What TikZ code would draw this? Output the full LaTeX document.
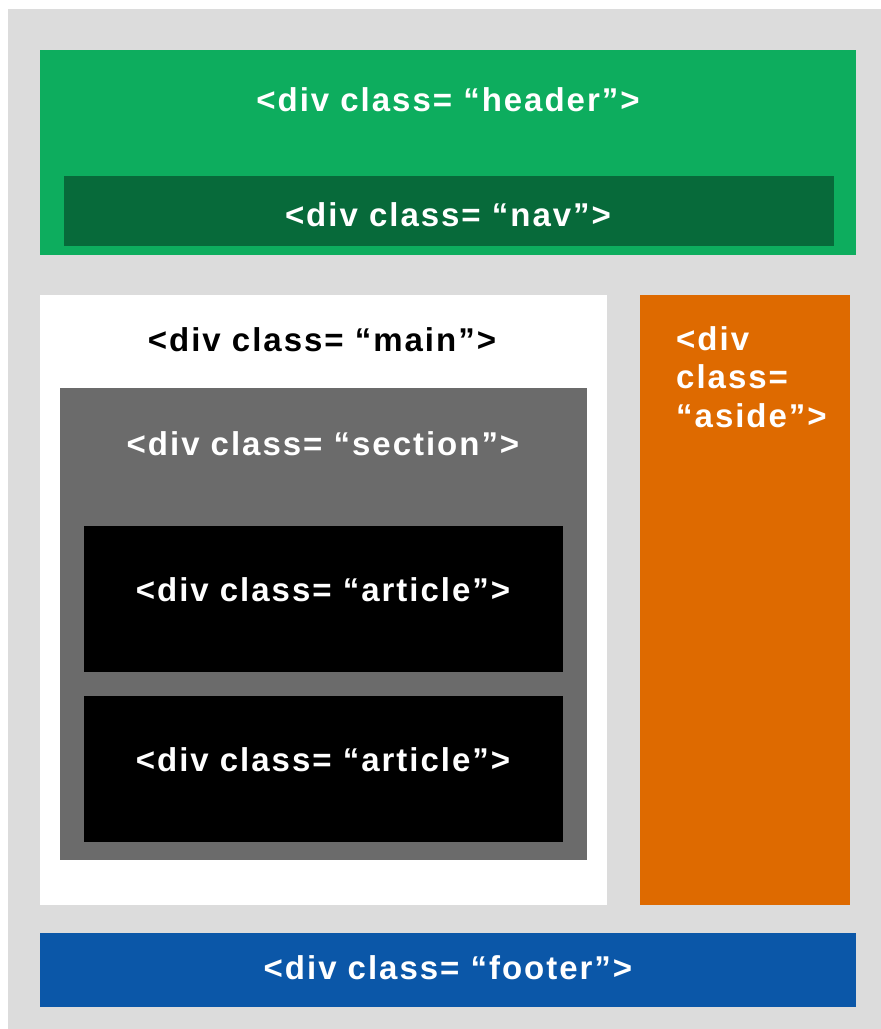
\documentclass[tikz,border=0pt]{standalone}
\usepackage{fontspec}
\setmainfont{Liberation Sans}[LetterSpace=6]
\definecolor{bg}{HTML}{DCDCDC}
\definecolor{hdr}{HTML}{0DAD5E}
\definecolor{navc}{HTML}{076A3A}
\definecolor{asidec}{HTML}{DE6A00}
\definecolor{footc}{HTML}{0B57A8}
\definecolor{secc}{HTML}{6B6B6B}
\begin{document}
\begin{tikzpicture}[x=1pt,y=-1pt,
  box/.style={draw=none, inner sep=0pt, outer sep=0pt, anchor=north west},
  lbl/.style={font=\fontsize{33}{38.5}\selectfont\bfseries, text=white, inner sep=0pt}]
\useasboundingbox (0,0) rectangle (881,1029);
\fill[white] (0,0) rectangle (881,1029);
\node[box, fill=bg, minimum width=873pt, minimum height=1020pt] (page) at (8,9) {};
\node[box, fill=hdr, minimum width=816pt, minimum height=205pt] (header) at (40,50) {};
\node[box, fill=navc, minimum width=770pt, minimum height=70pt] (nav) at (64,176) {};
\node[box, fill=white, minimum width=567pt, minimum height=610pt] (main) at (40,295) {};
\node[box, fill=secc, minimum width=527pt, minimum height=472pt] (section) at (60,388) {};
\node[box, fill=black, minimum width=479pt, minimum height=146pt] (art1) at (84,526) {};
\node[box, fill=black, minimum width=479pt, minimum height=146pt] (art2) at (84,696) {};
\node[box, fill=asidec, minimum width=210pt, minimum height=610pt] (aside) at (640,295) {};
\node[box, fill=footc, minimum width=816pt, minimum height=74pt] (footer) at (40,933) {};
\node[lbl] (tHeader) at (448,100) {<div class= “header”>};
\node[lbl] (tNav) at (448,215) {<div class= “nav”>};
\node[lbl, text=black] (tMain) at (322,340) {<div class= “main”>};
\node[lbl] (tSection) at (323,444) {<div class= “section”>};
\node[lbl] (tArt1) at (323,590) {<div class= “article”>};
\node[lbl] (tArt2) at (323,760) {<div class= “article”>};
\node[lbl, align=left, anchor=north west] (tAside) at (676,326) {<div\\class=\\“aside”>};
\node[lbl] (tFooter) at (448,968) {<div class= “footer”>};
\end{tikzpicture}
\end{document}
